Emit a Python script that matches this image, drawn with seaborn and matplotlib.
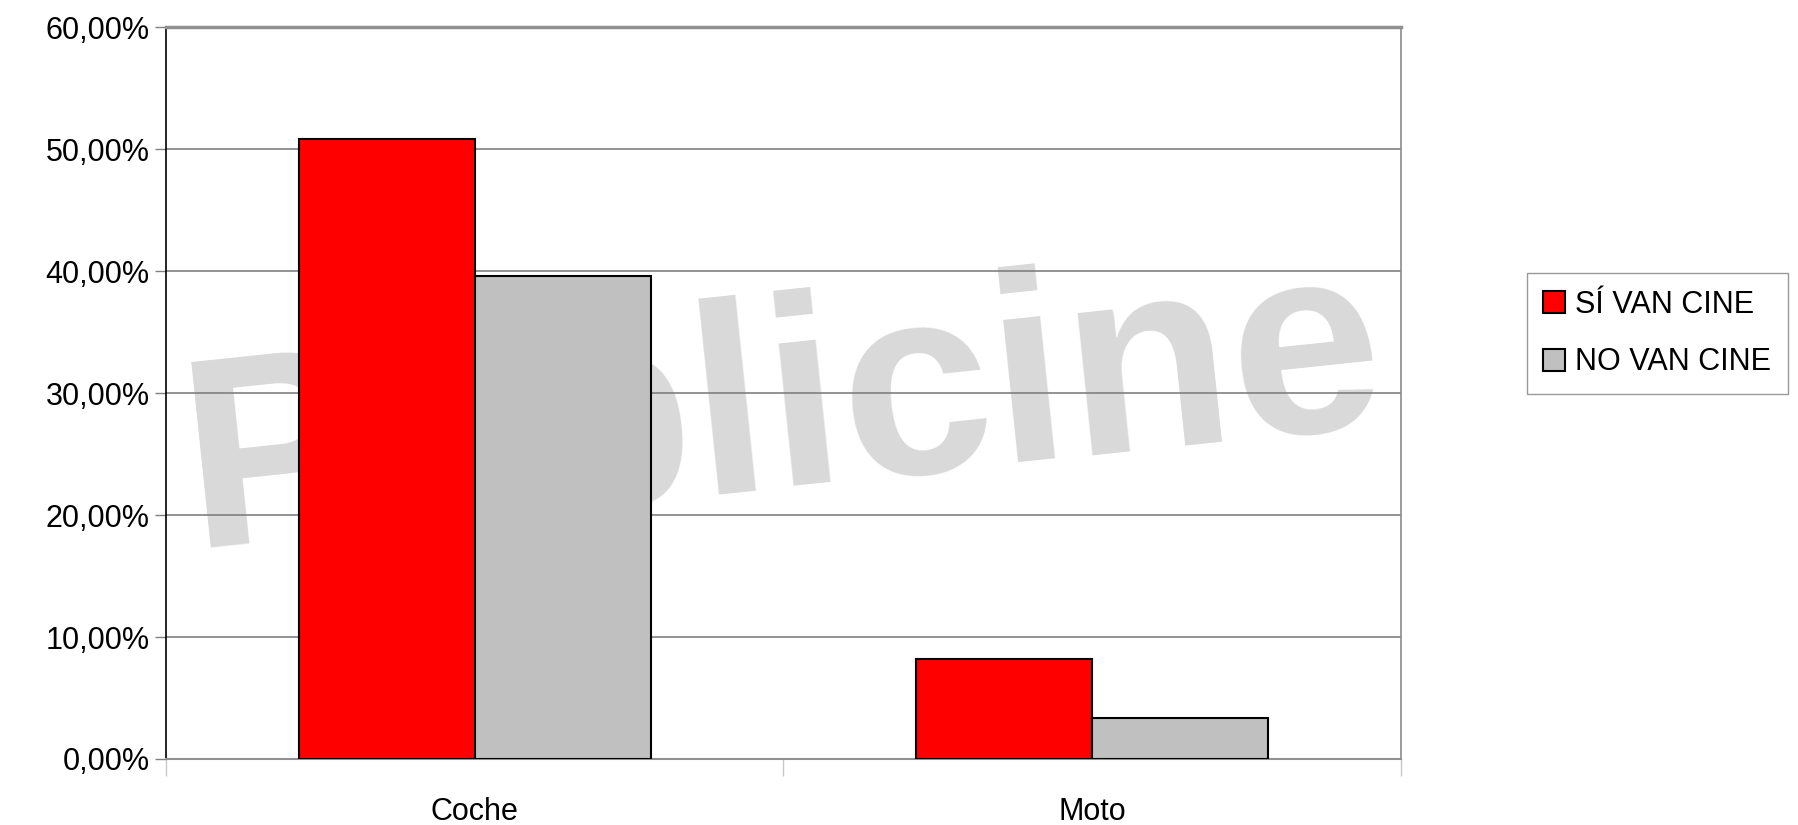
import pandas as pd
import matplotlib.pyplot as plt
import seaborn as sns
from matplotlib.ticker import FuncFormatter, FixedLocator

# Data
categories = ["Coche", "Moto"]
si_van_cine = [50.8, 8.2]
no_van_cine = [39.6, 3.4]
series = ["SÍ VAN CINE", "NO VAN CINE"]

df = pd.DataFrame({
    "medio": categories * 2,
    "valor": si_van_cine + no_van_cine,
    "grupo": [series[0]] * 2 + [series[1]] * 2,
})

sns.set_theme(style="white")
plt.rcParams['font.family'] = ['Liberation Sans', 'DejaVu Sans']
plt.rcParams['text.color'] = 'black'
plt.rcParams['xtick.labelcolor'] = 'black'
plt.rcParams['ytick.labelcolor'] = 'black'

fig = plt.figure(figsize=(17.98, 8.25), dpi=100)
ax = fig.add_axes([0.0925, 0.08, 0.6865, 0.887])

# faint watermark behind the bars
ax.text(0.5, 0.47, "Publicine", transform=ax.transAxes, ha="center", va="center",
        fontsize=195, color="#d9d9d9", fontweight="bold", rotation=6, zorder=0)

sns.barplot(data=df, x="medio", y="valor", hue="grupo", ax=ax,
            palette={series[0]: "#ff0000", series[1]: "#c0c0c0"},
            width=0.57, edgecolor="black", linewidth=1.5, saturation=1, zorder=3)

ax.set_ylim(0, 60)
ax.set_xlim(-0.5, 1.5)
ax.set_yticks(range(0, 61, 10))
ax.yaxis.set_major_formatter(FuncFormatter(lambda v, p: f"{v:.2f}%".replace(".", ",")))
ax.grid(axis="y", color="#808080", linewidth=1.2, zorder=1)
ax.set_axisbelow(True)

ax.set_xlabel("")
ax.set_ylabel("")
ax.tick_params(axis="y", labelsize=22, length=8, width=1, color="#808080",
               direction="out", left=True, pad=4, labelcolor="black")
ax.tick_params(axis="x", which="major", labelsize=22, length=0, pad=27,
               labelcolor="black")
ax.xaxis.set_minor_locator(FixedLocator([-0.5, 0.5, 1.5]))
ax.tick_params(axis="x", which="minor", length=12, width=1, color="#c8c8c8",
               direction="out", bottom=True)

ax.spines["left"].set_color("black")
ax.spines["left"].set_linewidth(1.2)
ax.spines["right"].set_color("#909090")
ax.spines["top"].set_color("#909090")
ax.spines["top"].set_linewidth(2.5)
ax.spines["bottom"].set_color("#909090")
ax.spines["bottom"].set_linewidth(1.5)

handles, labels = ax.get_legend_handles_labels()
leg = ax.legend(handles, labels, loc="upper left", bbox_to_anchor=(0.849, 0.669),
                bbox_transform=fig.transFigure, frameon=True, fancybox=False,
                edgecolor="#808080", fontsize=22, handlelength=0.72, handleheight=0.72,
                handletextpad=0.33, borderpad=0.55, labelspacing=0.9, borderaxespad=0)
for t in leg.get_texts():
    t.set_color("black")

plt.savefig("out.png", dpi=100)
